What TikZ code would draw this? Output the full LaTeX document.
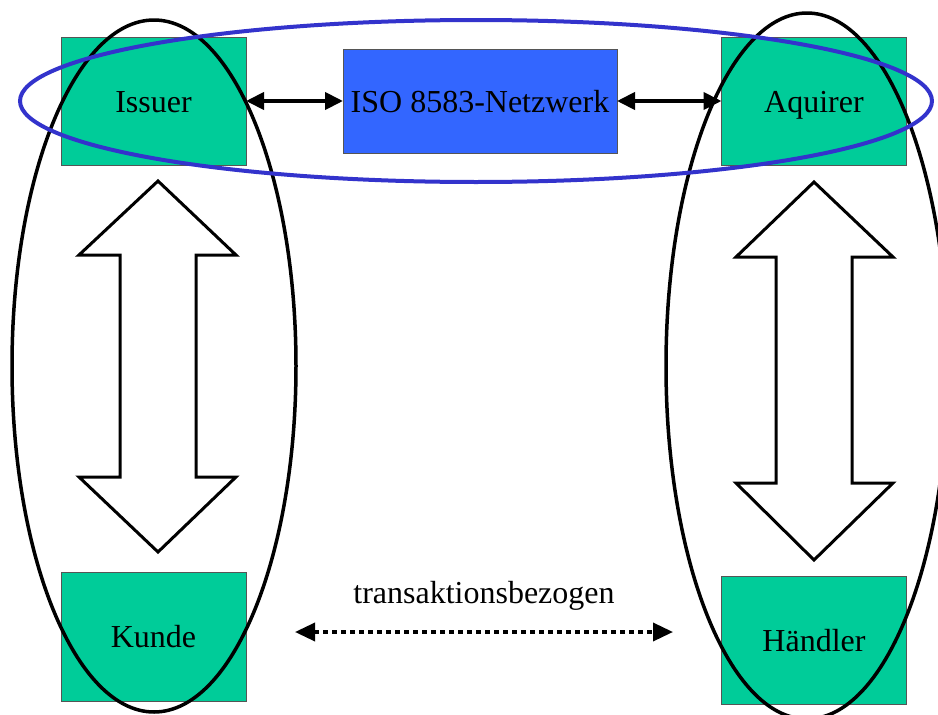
\documentclass[tikz,border=0pt]{standalone}
\usepackage{fontspec}
\setmainfont{Liberation Serif}
\usetikzlibrary{arrows.meta}

\definecolor{boxgreen}{HTML}{00CC99}
\definecolor{netblue}{HTML}{3366FF}
\definecolor{ringblue}{HTML}{3333CC}
\definecolor{boxedge}{HTML}{555555}

\tikzset{
  party/.style={draw=boxedge, line width=0.8pt, fill=boxgreen, inner sep=0pt,
    outer sep=0pt, minimum width=185pt, minimum height=128pt,
    text height=29pt, text depth=7pt,
    font=\fontsize{32}{38}\selectfont},
  network/.style={party, fill=netblue, minimum width=274pt, minimum height=104pt},
  link/.style={line width=4pt, {Triangle[length=18pt,width=17pt]}-{Triangle[length=18pt,width=17pt]}},
  looselink/.style={line width=3.5pt, dash pattern=on 5pt off 4pt,
    {Triangle[length=20pt,width=18pt]}-{Triangle[length=20pt,width=18pt]}},
  ring/.style={line width=3.5pt, draw=black},
  bluering/.style={line width=4pt, draw=ringblue},
  hollow/.style={draw=black, line width=3pt, fill=white, line join=miter},
  caption/.style={font=\fontsize{32}{38}\selectfont, anchor=base}
}

\begin{document}
\begin{tikzpicture}[x=1pt, y=-1pt]
  \fill[white] (0,0) rectangle (938,715);
  \clip (0,0) rectangle (938,715);

  % parties and the network
  \node[party] (issuer) at (153.5,101) {Issuer};
  \node[party] (aquirer) at (814,101) {Aquirer};
  \node[network] (iso) at (480,101) {ISO 8583-Netzwerk};
  \node[party, minimum height=129pt] (kunde) at (153.5,636.5) {Kunde};
  \node[party] (haendler) at (814,640) {Händler};

  % hollow double arrows between card holder side and merchant side
  \draw[hollow] (158,181) -- (236,255) -- (196,255) -- (196,477) -- (236,477)
    -- (158,552) -- (79,477) -- (120,477) -- (120,255) -- (79,255) -- cycle;
  \draw[hollow] (814,182) -- (893,257) -- (852,257) -- (852,483) -- (893,483)
    -- (814,560) -- (736,483) -- (776,483) -- (776,257) -- (736,257) -- cycle;

  % connectors
  \draw[link] (issuer.east) -- (iso.west);
  \draw[link] (iso.east) -- (aquirer.west);

  \coordinate (tl) at (295,632);
  \coordinate (tr) at (673,632);
  \draw[looselink] (tl) -- (tr);
  \node[caption] (tlabel) at (484,603) {transaktionsbezogen};

  % groupings
  \draw[ring] (154,366) ellipse [x radius=142pt, y radius=346pt];
  \draw[ring] (807,366) ellipse [x radius=141pt, y radius=353pt];
  \draw[bluering] (476,101) ellipse [x radius=456pt, y radius=81pt];
\end{tikzpicture}
\end{document}
